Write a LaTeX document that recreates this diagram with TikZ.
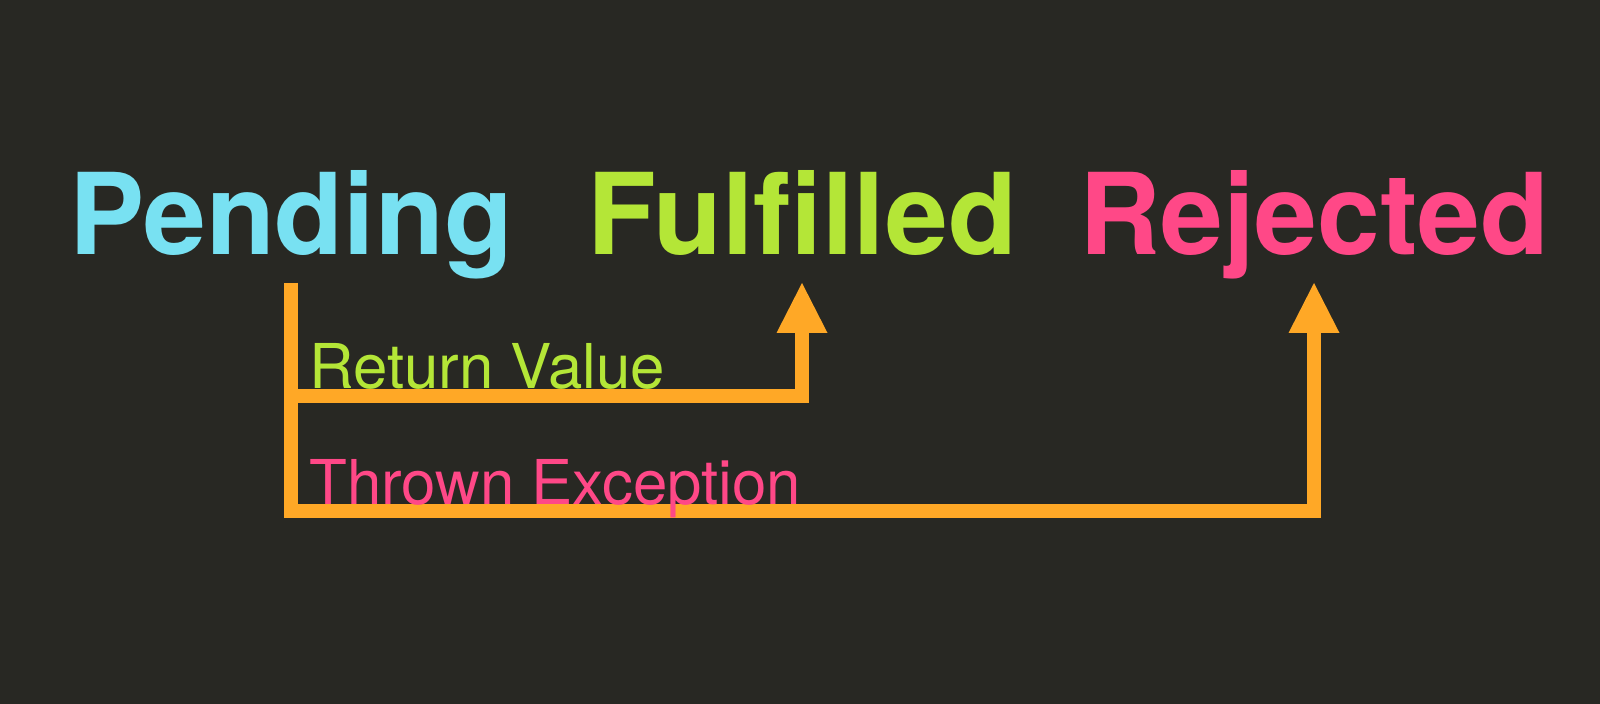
\documentclass[tikz,border=0pt]{standalone}
\usepackage{fontspec}
\setmainfont{TeX Gyre Heros}
\usetikzlibrary{arrows.meta}
\definecolor{bgc}{HTML}{282823}
\definecolor{pendc}{HTML}{78E1F2}
\definecolor{fulc}{HTML}{B4E637}
\definecolor{rejc}{HTML}{FF4887}
\definecolor{flowc}{HTML}{FFA826}
\tikzset{
  state/.style={inner sep=0pt, anchor=base, font=\fontsize{56.4pt}{60pt}\selectfont\bfseries},
  lbl/.style={inner sep=0pt, anchor=base west, font=\fontsize{30.9pt}{34pt}\selectfont},
  flow/.style={draw=flowc, line width=7pt, line join=miter, line cap=butt,
    -{Triangle[width=25.5pt,length=25pt,line width=0pt]}},
}
\begin{document}
\begin{tikzpicture}[x=0.5pt,y=-0.5pt]
\fill[bgc] (0,0) rectangle (1600,704);
\useasboundingbox (0,0) rectangle (1600,704);
\node[state, text=pendc] (pend) at (291,255) {Pending};
\node[state, text=fulc] (ful) at (802,255) {Fulfilled};
\node[state, text=rejc] (rej) at (1314,255) {Rejected};
\coordinate (top) at (0,283);
\coordinate (ylow1) at (0,396);
\coordinate (ylow2) at (0,511);
\draw[flow] (pend |- top) |- (rej |- ylow2) -- (rej |- top);
\draw[flow] (pend |- top) |- (ful |- ylow1) -- (ful |- top);
\node[lbl, text=fulc] (rv) at (309,389) {Return Value};
\node[lbl, text=rejc] (te) at (309,505) {Thrown Exception};
\end{tikzpicture}
\end{document}
